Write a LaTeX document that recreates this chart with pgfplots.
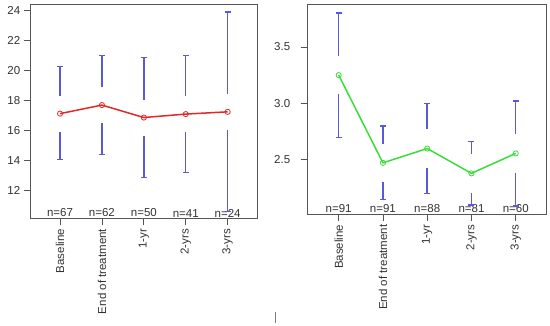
\documentclass[border=0pt]{standalone}
\usepackage{pgfplots}
\pgfplotsset{compat=1.18}
\usepackage{fontspec}
\setmainfont{Liberation Sans}
\definecolor{barblue}{RGB}{90,90,215}
\definecolor{linered}{RGB}{225,40,40}
\definecolor{linegreen}{RGB}{60,220,60}
\definecolor{axgray}{RGB}{85,85,85}
\tikzset{nlab/.style={anchor=south, inner sep=1pt, font=\fontsize{11.5}{13}\selectfont, text=black!80}}

\begin{document}
\begin{tikzpicture}
\useasboundingbox (0pt,0pt) rectangle (550pt,-326pt);
\pgfplotsset{
  seg/.style={draw=barblue, line width=1.4pt, mark=none, forget plot, unbounded coords=jump},
  cap/.style={draw=barblue, only marks, mark=-, mark size=3pt, mark options={draw=barblue, line width=1.2pt}, forget plot},
  common/.style={
    scale only axis,
    anchor=south west,
    xmin=0.3, xmax=5.7,
    axis line style={axgray, line width=0.8pt},
    tick style={axgray, line width=0.8pt},
    tick align=outside,
    major tick length=7pt,
    xtick={1,2,3,4,5},
    xticklabels={Baseline,End of treatment,1-yr,2-yrs,3-yrs},
    x tick label style={rotate=90, anchor=east, font=\fontsize{11.5}{13}\selectfont, text=black!80, inner sep=3.5pt},
    y tick label style={font=\fontsize{11.5}{13}\selectfont, text=black!80},
    /pgf/number format/assume math mode=true,
    xtick pos=bottom, ytick pos=left,
    clip=true,
  }
}
% left panel
\begin{axis}[common,
  at={(30.7pt,-218.3pt)}, width=226.3pt, height=214.3pt,
  ymin=10.13, ymax=24.4,
  ytick={12,14,16,18,20,22,24},
]
% error bars (upper and lower parts, gap around the mean)
\addplot[seg] coordinates {
  (1,20.24) (1,18.30) (nan,nan) (1,15.90) (1,14.04) (nan,nan)
  (2,20.95) (2,18.87) (nan,nan) (2,16.47) (2,14.40) (nan,nan)
  (3,20.82) (3,18.04) (nan,nan) (3,15.64) (3,12.84) (nan,nan)
  (4,20.97) (4,18.27) (nan,nan) (4,15.87) (4,13.17) (nan,nan)
  (5,23.87) (5,18.42) (nan,nan) (5,16.02) (5,10.57)
};
\addplot[cap] coordinates {
  (1,20.24) (1,14.04) (2,20.95) (2,14.40) (3,20.82) (3,12.84)
  (4,20.97) (4,13.17) (5,23.87) (5,10.57)
};
\addplot[linered, line width=1.5pt, mark=o, mark size=2.6pt, mark options={line width=0.8pt}] coordinates {
  (1,17.10) (2,17.67) (3,16.84) (4,17.07) (5,17.22)
};
\node[nlab] at (axis cs:1,10.13) {n=67};
\node[nlab] at (axis cs:2,10.13) {n=62};
\node[nlab] at (axis cs:3,10.13) {n=50};
\node[nlab] at (axis cs:4,10.13) {n=41};
\node[nlab] at (axis cs:5,10.13) {n=24};
\end{axis}
% right panel
\begin{axis}[common,
  at={(307.7pt,-214pt)}, width=239pt, height=210pt,
  ymin=2.02, ymax=3.88,
  ytick={2.5,3.0,3.5},
  yticklabels={2.5,3.0,3.5},
  y tick label style={xshift=-7pt},
]
\addplot[seg] coordinates {
  (1,3.80) (1,3.42) (nan,nan) (1,3.08) (1,2.70) (nan,nan)
  (2,2.80) (2,2.643) (nan,nan) (2,2.303) (2,2.146) (nan,nan)
  (3,2.997) (3,2.77) (nan,nan) (3,2.43) (3,2.20) (nan,nan)
  (4,2.66) (4,2.55) (nan,nan) (4,2.21) (4,2.10) (nan,nan)
  (5,3.02) (5,2.727) (nan,nan) (5,2.387) (5,2.09)
};
\addplot[cap] coordinates {
  (1,3.80) (1,2.70) (2,2.80) (2,2.146) (3,2.997) (3,2.20)
  (4,2.66) (4,2.10) (5,3.02) (5,2.09)
};
\addplot[linegreen, line width=1.5pt, mark=o, mark size=2.6pt, mark options={line width=0.8pt}] coordinates {
  (1,3.25) (2,2.473) (3,2.60) (4,2.38) (5,2.557)
};
\node[nlab] at (axis cs:1,2.02) {n=91};
\node[nlab] at (axis cs:2,2.02) {n=91};
\node[nlab] at (axis cs:3,2.02) {n=88};
\node[nlab] at (axis cs:4,2.02) {n=81};
\node[nlab] at (axis cs:5,2.02) {n=60};
\end{axis}
\draw[gray, line width=0.8pt] (275.7pt,-312pt) -- (275.7pt,-323pt);
\end{tikzpicture}
\end{document}
